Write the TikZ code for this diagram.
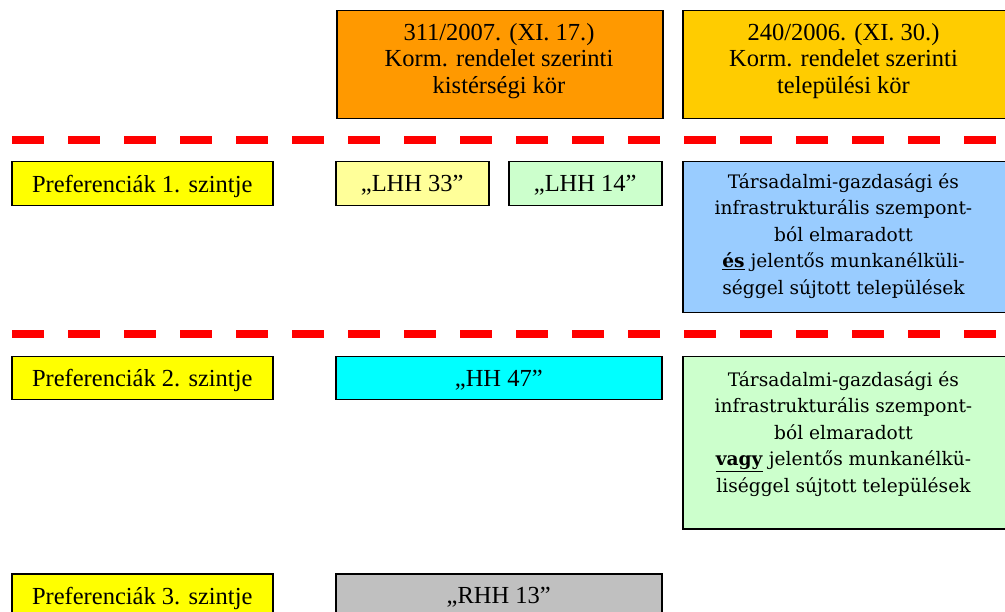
\documentclass[tikz,border=0pt]{standalone}
\usepackage{fontspec}
\newfontfamily\leftfont{Liberation Serif}
\newfontfamily\rightfont{DejaVu Serif}
\definecolor{korange}{HTML}{FF9900}
\definecolor{kgold}{HTML}{FFCC00}
\definecolor{kyellow}{HTML}{FFFF00}
\definecolor{klightyellow}{HTML}{FFFF99}
\definecolor{klightgreen}{HTML}{CCFFCC}
\definecolor{kblue}{HTML}{99CCFF}
\definecolor{kcyan}{HTML}{00FFFF}
\definecolor{kgrey}{HTML}{C0C0C0}
\tikzset{
  cell/.style={draw=black, line width=1.5pt, inner sep=0pt, anchor=north west,
    align=center, text depth=0pt, font={\leftfont\fontsize{24.5}{26}\selectfont}},
  headtext/.style={inner sep=0pt, align=center,
    font={\leftfont\fontsize{24.5}{26.5}\selectfont}},
  bigtext/.style={inner sep=0pt, align=center,
    font={\rightfont\fontsize{18.6}{26.5}\selectfont}},
  levelline/.style={draw=red, line width=8pt, dash pattern=on 32pt off 24pt}
}
\begin{document}
\begin{tikzpicture}[x=1pt,y=-1pt]
\useasboundingbox (0,0) rectangle (1005,612);
\clip (0,0) rectangle (1005,612);

% header boxes
\node[cell, fill=korange, minimum width=326pt, minimum height=108pt] (kister) at (336,10) {};
\node[headtext] (kisterText) at (499,61)
  {311/2007. (XI. 17.)\\Korm. rendelet szerinti\\kistérségi kör};
\node[cell, fill=kgold, minimum width=340pt, minimum height=108pt] (telep) at (682,10) {};
\node[headtext] (telepText) at (843.5,61)
  {240/2006. (XI. 30.)\\Korm. rendelet szerinti\\települési kör};

% separator lines
\coordinate (sepA1) at (12,140);
\coordinate (sepA2) at (1010,140);
\coordinate (sepB1) at (12,334);
\coordinate (sepB2) at (1010,334);
\draw[levelline] (sepA1) -- (sepA2);
\draw[levelline] (sepB1) -- (sepB2);

% level 1
\node[cell, fill=kyellow, minimum width=261pt, minimum height=44pt] (pref1) at (11,161)
  {Preferenciák 1. szintje};
\node[cell, fill=klightyellow, minimum width=153pt, minimum height=44pt] (lhh33) at (335,161)
  {„LHH 33”};
\node[cell, fill=klightgreen, minimum width=153pt, minimum height=44pt] (lhh14) at (508,161)
  {„LHH 14”};
\node[cell, fill=kblue, minimum width=340pt, minimum height=151pt] (blue) at (682,161) {};
\node[bigtext] (blueText) at (843.5,236)
  {Társadalmi-gazdasági és\\infrastrukturális szempont-\\ból elmaradott\\
   \underline{\textbf{és}} jelentős munkanélküli-\\séggel sújtott települések};

% level 2
\node[cell, fill=kyellow, minimum width=261pt, minimum height=43pt] (pref2) at (11,356)
  {Preferenciák 2. szintje};
\node[cell, fill=kcyan, minimum width=326pt, minimum height=43pt] (hh47) at (335,356)
  {„HH 47”};
\node[cell, fill=klightgreen, minimum width=340pt, minimum height=172pt] (green) at (682,356) {};
\node[bigtext] (greenText) at (843.5,434)
  {Társadalmi-gazdasági és\\infrastrukturális szempont-\\ból elmaradott\\
   \underline{\textbf{vagy}} jelentős munkanélkü-\\liséggel sújtott települések};

% level 3
\node[cell, fill=kyellow, minimum width=261pt, minimum height=44pt] (pref3) at (11,573)
  {Preferenciák 3. szintje};
\node[cell, fill=kgrey, minimum width=326pt, minimum height=44pt] (rhh13) at (335,573)
  {„RHH 13”};
\end{tikzpicture}
\end{document}
